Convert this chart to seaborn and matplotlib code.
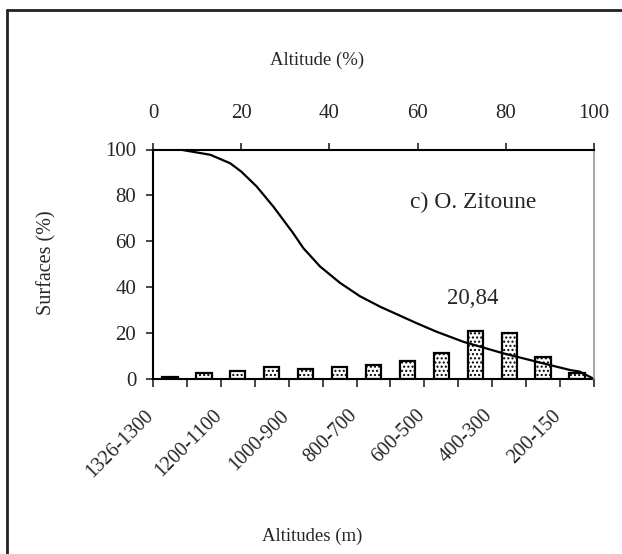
import numpy as np
import pandas as pd
import seaborn as sns
import matplotlib
matplotlib.use("Agg")
import matplotlib.pyplot as plt
import matplotlib.transforms as mtransforms
from matplotlib.lines import Line2D

# tranches d'altitude (m) et part de surface de chaque tranche (%)
tranches = ["1326-1300", "1300-1200", "1200-1100", "1100-1000", "1000-900",
            "900-800", "800-700", "700-600", "600-500", "500-400",
            "400-300", "300-200", "200-150"]
surfaces = [0.9, 2.7, 3.5, 5.1, 4.4, 5.2, 5.9, 8.0, 11.4, 20.84, 20.0, 9.4, 2.6]

# courbe hypsometrique : altitude (%) -> surface cumulee (%)
alt_pct = [0, 6, 13, 17.5, 20, 23.5, 27.3, 31.8, 34.1, 37.9, 42.4, 46.9,
           51.5, 59.8, 64.3, 70.4, 79.4, 88.5, 94.6, 96.8, 100]
surf_cum = [100, 100, 97.7, 94, 90.4, 83.9, 75.1, 63.5, 57, 49, 41.9, 36.1,
            31.5, 24.3, 20.6, 16.2, 11.2, 6.8, 3.9, 3.2, 0]

sns.set_style("white")
plt.rcParams['font.family'] = ['Liberation Serif', 'DejaVu Serif']
plt.rcParams['hatch.linewidth'] = 1.0
plt.rcParams['hatch.color'] = '#555555'
fs = 13.5

df = pd.DataFrame({"tranche": tranches, "surface": surfaces})

fig = plt.figure(figsize=(6.22, 5.54), dpi=100)
ax = fig.add_axes([153/622, 1 - 379/554, 441/622, 229.5/554])

sns.barplot(data=df, x="tranche", y="surface", ax=ax, color="white",
            edgecolor="black", linewidth=1.6, width=0.45, saturation=1)
for p in ax.patches:
    p.set_hatch("....")

ax.set_ylim(0, 100)
ax.set_xlim(-0.5, len(tranches) - 0.5)
ax.set_yticks(np.arange(0, 101, 20))
ax.tick_params(axis="y", labelsize=15, length=5, width=1.2, pad=7, left=True)

# graduations aux limites des classes, etiquettes une sur deux au centre
ax.set_xticks(np.arange(-0.5, len(tranches), 1.0))
ax.set_xticklabels([])
ax.set_xticks(np.arange(0, len(tranches), 2), minor=True)
ax.set_xticklabels(tranches[::2], minor=True)
ax.tick_params(axis="x", which="major", length=6, width=1.2, bottom=True)
ax.tick_params(axis="x", which="minor", length=0, labelsize=14.5, pad=0)
offset = mtransforms.ScaledTranslation(-19/100, -34/100, fig.dpi_scale_trans)
for lab in ax.get_xticklabels(minor=True):
    lab.set_rotation(45)
    lab.set_ha("right")
    lab.set_va("center")
    lab.set_rotation_mode("anchor")
    lab.set_transform(lab.get_transform() + offset)

for s in ["left", "bottom"]:
    ax.spines[s].set_color("black")
    ax.spines[s].set_linewidth(1.5)
ax.spines["top"].set_visible(False)
ax.spines["right"].set_visible(False)

ax.set_xlabel("Altitudes (m)", fontsize=fs, va="center")
ax.xaxis.set_label_coords(0.36, -0.684)
ax.set_ylabel("Surfaces (%)", fontsize=14.5, va="center")
ax.yaxis.set_label_coords(-0.24, 0.505)

ax.annotate("20,84", xy=(9, surfaces[9]), xytext=(-3, 27), textcoords="offset pixels",
            ha="center", va="baseline", fontsize=16.5)
ax.text(0.726, 0.771, "c) O. Zitoune", transform=ax.transAxes,
        ha="center", va="center", fontsize=17)

# axe superieur : altitude en %
ax2 = ax.twiny()
sns.lineplot(x=alt_pct, y=surf_cum, ax=ax2, color="black", linewidth=1.6, sort=False)
ax2.set_xlim(0, 100)
ax2.set_ylim(0, 100)
ax2.set_xticks(np.arange(0, 101, 20))
ax2.tick_params(axis="x", labelsize=15, length=5, width=1.2, pad=14, top=True)
ax2.set_xlabel("Altitude (%)", fontsize=fs, va="center")
ax2.xaxis.set_label_coords(0.372, 1.39)
ax2.set_ylabel("")
ax2.spines["left"].set_visible(False)
ax2.spines["bottom"].set_visible(False)
ax2.spines["top"].set_color("black")
ax2.spines["top"].set_linewidth(1.5)
ax2.spines["right"].set_color("#999999")
ax2.spines["right"].set_linewidth(1.2)

# cadre exterieur
fig.add_artist(Line2D([7/622, 7/622], [0, 1 - 10/554], color="#222222", lw=2))
fig.add_artist(Line2D([7/622, 1], [1 - 10/554, 1 - 10/554], color="#222222", lw=2))

fig.savefig("out.png", dpi=100)
